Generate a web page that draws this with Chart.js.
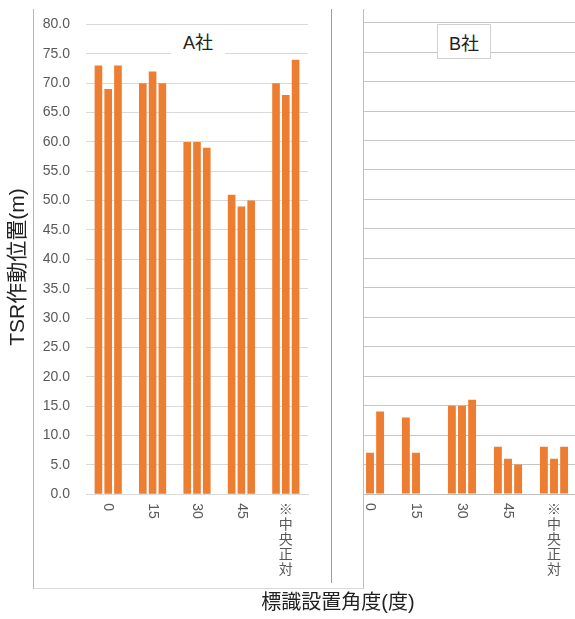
<!DOCTYPE html>
<html>
<head>
<meta charset="utf-8">
<script src="https://cdn.jsdelivr.net/npm/chart.js@4"></script>
<style>
  body { margin: 0; width: 575px; height: 619px; background: #fff; position: relative; overflow: hidden;
         font-family: 'Liberation Sans', 'Noto Sans CJK JP', sans-serif; }
  .abs { position: absolute; }
  #wrapA { left: 0; top: 0; width: 332px; height: 619px; }
  #clipB { left: 363px; top: 9px; width: 212px; height: 579px; overflow: hidden; border-left: 1px solid #bdbdbd; }
  #wrapB { left: -17px; top: -9px; width: 230px; height: 619px; }
  .frameA { left: 33px; top: 9px; width: 330px; height: 579px; border-left: 1px solid #b5b5b5; border-bottom: 1px solid #d9d9d9; }
  .sep { left: 331px; top: 9px; width: 1px; height: 574px; background: #7f9fd8; z-index: 4; }
  .ttl { font-size: 18px; color: #222; text-align: center; background: #fff; z-index: 5; }
  #titleA { left: 171px; top: 30px; width: 54px; height: 28px; line-height: 26px; }
  #titleB { left: 437px; top: 24px; width: 52px; height: 33px; line-height: 38px; border: 1px solid #d0d0d0; }
  #ytitle { left: -83px; top: 255px; width: 200px; height: 24px; line-height: 24px; font-size: 21px; color: #222;
            text-align: center; transform: rotate(-90deg); }
  #xtitle { left: 238px; top: 590px; width: 200px; height: 24px; line-height: 24px; font-size: 20px; color: #222; text-align: center; }
</style>
</head>
<body>
<div class="abs frameA"></div>
<div class="abs sep"></div>
<div class="abs" id="wrapA"><canvas id="chartA"></canvas></div>
<div class="abs" id="clipB"><div class="abs" id="wrapB"><canvas id="chartB"></canvas></div></div>
<div class="abs ttl" id="titleA">A社</div>
<div class="abs ttl" id="titleB">B社</div>
<div class="abs" id="ytitle">TSR作動位置(m)</div>
<div class="abs" id="xtitle">標識設置角度(度)</div>
<script>
// 設置角度 (カテゴリ)
const angles = ['0', '15', '30', '45', '※中央正対'];

// A社 3回分
const aRun1 = [73, 70, 60, 51, 70];
const aRun2 = [69, 72, 60, 49, 68];
const aRun3 = [73, 70, 59, 50, 74];

// B社 3回分 (欠測は null)
const bRun1 = [null, 13, 15, 8, 8];
const bRun2 = [7, 7, 15, 6, 6];
const bRun3 = [14, null, 16, 5, 8];

const yMin = 0, yMax = 80, yStep = 5;

const FONT = "'Liberation Sans', 'Noto Sans CJK JP', sans-serif";
const ORANGE = '#ed7d31';

// 縦書きラベル（数字は右90度回転、漢字は縦積み）
const verticalLabels = {
  id: 'verticalLabels',
  afterDraw(chart) {
    const ctx = chart.ctx;
    const x = chart.scales.x;
    ctx.save();
    ctx.fillStyle = '#595959';
    ctx.font = '14px ' + FONT;
    chart.data.labels.forEach((label, i) => {
      const px = x.getPixelForTick(i);
      const py = x.top + 9;
      if (/^[0-9]+$/.test(label)) {
        ctx.save();
        ctx.translate(px, py);
        ctx.rotate(Math.PI / 2);
        ctx.textAlign = 'left';
        ctx.textBaseline = 'middle';
        ctx.fillText(label, 0, 0);
        ctx.restore();
      } else {
        ctx.textAlign = 'center';
        ctx.textBaseline = 'top';
        [...label].forEach((ch, k) => ctx.fillText(ch, px, py + k * 15));
      }
    });
    ctx.restore();
  }
};

function makeSets(runs) {
  return runs.map((d, i) => ({
    label: 'run' + (i + 1),
    data: d,
    backgroundColor: ORANGE,
    borderWidth: 0,
    barPercentage: 0.78,
    categoryPercentage: 0.66
  }));
}

function makeChart(id, runs, showTicks, gridColor, axisColor, pad) {
  return new Chart(document.getElementById(id), {
    type: 'bar',
    data: { labels: angles, datasets: makeSets(runs) },
    options: {
      responsive: true,
      maintainAspectRatio: false,
      animation: false,
      layout: { padding: pad },
      plugins: { legend: { display: false }, tooltip: { enabled: false } },
      scales: {
        x: {
          grid: { display: false },
          border: { display: true, color: axisColor },
          ticks: { display: false },
          afterFit: s => { s.height = 0; }
        },
        y: {
          min: yMin, max: yMax,
          grid: { color: gridColor, drawTicks: false },
          border: { display: false },
          ticks: {
            display: showTicks,
            stepSize: yStep,
            padding: 16,
            color: '#595959',
            font: { size: 14, family: FONT },
            callback: v => v.toFixed(1)
          },
          afterFit: s => { s.width = showTicks ? 86 : 0; }
        }
      }
    },
    plugins: [verticalLabels]
  });
}

makeChart('chartA', [aRun1, aRun2, aRun3], true, '#d9d9d9', '#d9d9d9',
  { left: 0, right: 24, top: 23.3, bottom: 124.7 });
makeChart('chartB', [bRun1, bRun2, bRun3], false, '#c6c6c6', '#bfbfbf',
  { left: 0, right: 0, top: 22.7, bottom: 125 });
</script>
</body>
</html>
